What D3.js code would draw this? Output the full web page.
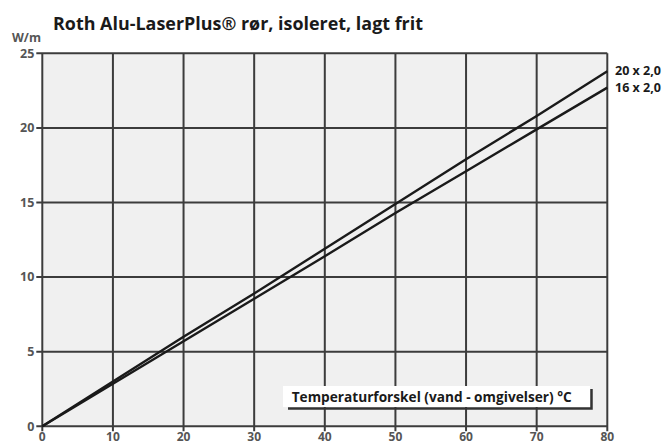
<!DOCTYPE html>
<html><head><meta charset="utf-8">
<script src="https://cdn.jsdelivr.net/npm/d3@7"></script>
<style>
html,body{margin:0;padding:0;background:#fff;}
svg{display:block;font-family:"Open Sans",sans-serif;}
</style></head>
<body><svg id="c" width="663" height="444"></svg>
<script>
const title = "Roth Alu-LaserPlus® rør, isoleret, lagt frit";
const yUnit = "W/m";
const xLabel = "Temperaturforskel (vand - omgivelser) °C";
const xTicks = [0,10,20,30,40,50,60,70,80];
const yTicks = [0,5,10,15,20,25];
const temps = [0,10,20,30,40,50,60,70,80];
const series20 = [0,3.0,6.0,8.9,11.9,14.9,17.9,20.8,23.8];
const series16 = [0,2.85,5.7,8.55,11.4,14.3,17.1,19.9,22.7];
const seriesNames = ["20 x 2,0","16 x 2,0"];

const svg = d3.select("#c");
const m = {l:42.3, r:607.3, t:53.3, b:426.3};
const x = d3.scaleLinear().domain([0,80]).range([m.l,m.r]);
const y = d3.scaleLinear().domain([0,25]).range([m.b,m.t]);

svg.append("rect").attr("x",m.l).attr("y",m.t).attr("width",m.r-m.l).attr("height",m.b-m.t).attr("fill","#f0f0f0");

const gridCol = "#3c3c3c";
svg.append("g").selectAll("line").data(xTicks).join("line")
  .attr("x1",d=>x(d)).attr("x2",d=>x(d)).attr("y1",m.t).attr("y2",m.b+5)
  .attr("stroke",gridCol).attr("stroke-width",2);
svg.append("g").selectAll("line").data(yTicks).join("line")
  .attr("x1",m.l-6).attr("x2",m.r).attr("y1",d=>y(d)).attr("y2",d=>y(d))
  .attr("stroke",gridCol).attr("stroke-width",2);

svg.append("g").selectAll("text").data(yTicks).join("text")
  .attr("x",m.l-8).attr("y",d=>y(d)).attr("dy","0.35em").attr("text-anchor","end")
  .attr("font-size",12.5).attr("font-weight","bold").attr("fill","#555").text(d=>d);
svg.append("g").selectAll("text").data(xTicks).join("text")
  .attr("x",d=>x(d)).attr("y",441).attr("text-anchor","middle")
  .attr("font-size",12).attr("font-weight","bold").attr("fill","#555").text(d=>d);

svg.append("text").attr("x",12).attr("y",42).attr("font-size",12).attr("font-weight","bold")
  .attr("fill","#555").attr("textLength",29).attr("lengthAdjust","spacingAndGlyphs").text(yUnit);
svg.append("text").attr("x",53).attr("y",29.5).attr("font-size",18.5).attr("font-weight","bold")
  .attr("fill","#1a1a1a").attr("textLength",370).attr("lengthAdjust","spacingAndGlyphs").text(title);

const lb = {x:283, y:386, w:307, h:21};
svg.append("path").attr("d",`M${lb.x+5},${lb.y+lb.h+1.5}H${lb.x+lb.w+1.5}V${lb.y+3}`)
  .attr("fill","none").attr("stroke","#333").attr("stroke-width",2.5);
svg.append("rect").attr("x",lb.x).attr("y",lb.y).attr("width",lb.w).attr("height",lb.h).attr("fill","#fff");
svg.append("text").attr("x",291.7).attr("y",401.7).attr("font-size",14).attr("font-weight","bold")
  .attr("fill","#1a1a1a").attr("textLength",280).attr("lengthAdjust","spacingAndGlyphs").text(xLabel);

const line = d3.line().x((d,i)=>x(temps[i])).y(d=>y(d));
[series20, series16].forEach(s=>{
  svg.append("path").datum(s).attr("d",line).attr("fill","none").attr("stroke","#1a1a1a").attr("stroke-width",2.4);
});
[series20, series16].forEach((s,i)=>{
  svg.append("text").attr("x",615).attr("y",y(s[s.length-1])).attr("dy","0.35em")
    .attr("font-size",12).attr("font-weight","bold").attr("fill","#1a1a1a")
    .attr("textLength",46).attr("lengthAdjust","spacingAndGlyphs").text(seriesNames[i]);
});
</script></body></html>
